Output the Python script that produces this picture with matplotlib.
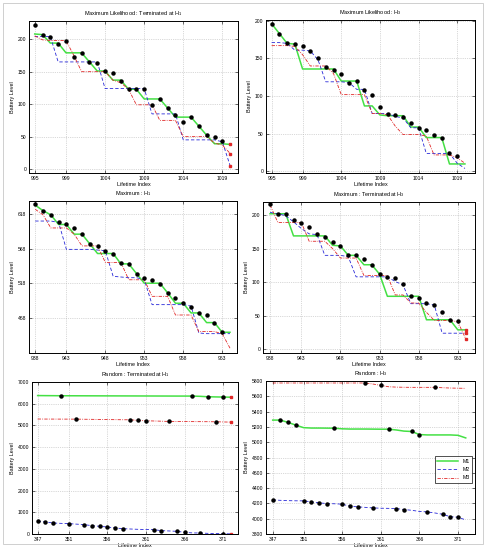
# battery level predictions, six panels
import matplotlib
matplotlib.use('Agg')
import matplotlib.pyplot as plt
import numpy as np

plt.rcParams['font.family'] = ['Liberation Sans', 'DejaVu Sans']
plt.rcParams['mathtext.fontset'] = 'custom'
plt.rcParams['mathtext.rm'] = 'Liberation Sans'

# ---------------- data ----------------
# panel 1 : Maximum Likelihood : Terminated at H1
x1 = np.arange(995, 1021)
ticks1 = [995, 999, 1004, 1009, 1014, 1019]
labels1 = ['995', '999', '1004', '1009', '1014', '1019']
obs1 = [222, 207, 204, 193, 197, 173, 179, 165, 163, 151, 148, 136, 123, 123, 123,
        98, 108, 94, 84, 73, 80, 66, 52, 49, 43]
m1_1 = [208, 207, 194, 194, 179, 179, 179, 165, 151, 151, 137, 137, 123, 123, 108,
        108, 108, 94, 80, 80, 80, 66, 52, 39, 39, 38]
m2_1 = [204, 204, 204, 165, 165, 165, 165, 165, 165, 124, 124, 124, 124, 124, 124,
        85, 85, 85, 85, 45, 45, 45, 45, 45, 42, 5]
m3_1 = [205, 199, 198, 198, 198, 175, 150, 150, 150, 150, 137, 133, 123, 99, 99,
        99, 75, 75, 75, 50, 50, 50, 50, 40, 37, 24]

# panel 2 : Maximum Likelihood : H3
x2 = np.arange(995, 1021)
ticks2 = [995, 999, 1004, 1009, 1014, 1019]
labels2 = ['995', '999', '1004', '1009', '1014', '1019']
obs2 = [196, 183, 170, 169, 166, 160, 150, 139, 134, 129, 118, 120, 108, 102, 86,
        76, 75, 72, 65, 58, 55, 48, 44, 24, 21]
m1_2 = [196, 183, 170, 169, 136, 136, 136, 136, 136, 120, 120, 120, 87, 87, 75,
        74, 74, 74, 59, 59, 45, 45, 45, 10, 10, 10]
m2_2 = [171, 171, 170, 161, 161, 160, 148, 119, 119, 119, 118, 109, 109, 77, 77,
        77, 73, 71, 58, 58, 24, 24, 24, 24, 11, 4]
m3_2 = [167, 167, 167, 166, 155, 140, 140, 140, 130, 102, 102, 102, 102, 77, 77,
        75, 60, 49, 49, 49, 47, 22, 22, 22, 18, 11]

# panel 3 : Maximum : H1
x3 = np.arange(939, 965)
ticks3 = [939, 943, 948, 953, 958, 963]
labels3 = ['938', '943', '948', '953', '958', '963']
obs3 = [632, 623, 617, 606, 603, 598, 589, 575, 572, 565, 560, 547, 546, 532, 525,
        522, 517, 504, 497, 489, 484, 475, 472, 461, 447]
m1_3 = [631, 623, 617, 603, 603, 589, 589, 575, 561, 561, 561, 546, 546, 532, 518,
        518, 518, 504, 489, 489, 475, 475, 461, 461, 447, 447]
m2_3 = [608, 608, 608, 606, 567, 567, 567, 567, 566, 565, 528, 527, 526, 526, 523,
        487, 487, 487, 487, 487, 485, 446, 445, 445, 445, 445]
m3_3 = [625, 617, 598, 598, 598, 589, 572, 572, 572, 548, 548, 548, 523, 523, 523,
        499, 499, 499, 472, 472, 472, 448, 448, 448, 445, 424]

# panel 4 : Maximum : Terminated at H3
x4 = np.arange(939, 965)
ticks4 = [939, 943, 948, 953, 958, 963]
labels4 = ['938', '943', '948', '953', '958', '963']
obs4 = [216, 202, 202, 192, 188, 182, 172, 168, 160, 154, 140, 140, 134, 125, 112,
        108, 107, 97, 80, 77, 69, 66, 55, 43, 42]
m1_4 = [202, 202, 202, 169, 169, 169, 169, 169, 155, 154, 140, 140, 126, 126, 112,
        79, 79, 79, 79, 79, 44, 44, 44, 44, 29, 29]
m2_4 = [204, 202, 199, 190, 180, 172, 171, 140, 140, 140, 138, 108, 108, 108, 108,
        108, 101, 96, 68, 68, 68, 66, 24, 24, 24, 24]
m3_4 = [215, 189, 189, 189, 189, 161, 161, 161, 150, 136, 136, 136, 110, 110, 110,
        110, 81, 81, 69, 69, 55, 43, 43, 43, 41, 16]

# panel 5 : Random : Terminated at H1
x5 = np.arange(347, 373)
ticks5 = [347, 351, 356, 361, 366, 371]
labels5 = ['347', '351', '356', '361', '366', '371']
m1_5 = [6375, 6372, 6370, 6367, 6366, 6365, 6364, 6363, 6362, 6361, 6360, 6359, 6358,
        6357, 6356, 6355, 6354, 6353, 6352, 6352, 6352, 6340, 6321, 6313, 6306, 6300]
m2_5 = [584, 554, 507, 490, 477, 455, 431, 385, 354, 323, 277, 246, 230, 215, 205,
        200, 154, 140, 123, 77, 50, 46, 30, 20, 15, 5]
m3_5 = [5295, 5293, 5292, 5291, 5290, 5290, 5285, 5280, 5275, 5270, 5266, 5262, 5260,
        5230, 5214, 5205, 5195, 5183, 5180, 5178, 5176, 5174, 5172, 5168, 5160, 5152]
dots1_5 = [3, 20, 22, 24]
dots2_5 = [0, 1, 2, 4, 6, 7, 8, 9, 10, 11, 15, 16, 18, 19, 21, 24]
dots3_5 = [5, 12, 13, 14, 17, 23]

# panel 6 : Random : H3
x6 = np.arange(347, 373)
ticks6 = [347, 351, 356, 361, 366, 371]
labels6 = ['347', '351', '356', '361', '366', '371']
m1_6 = [5289, 5289, 5258, 5223, 5190, 5185, 5185, 5184, 5183, 5175, 5172, 5172, 5172,
        5171, 5170, 5170, 5160, 5145, 5140, 5100, 5095, 5095, 5095, 5095, 5090, 5056]
m2_6 = [4246, 4240, 4236, 4234, 4233, 4220, 4207, 4198, 4195, 4190, 4163, 4155, 4148,
        4141, 4137, 4135, 4133, 4120, 4110, 4095, 4089, 4075, 4058, 4026, 4019, 3984]
m3_6 = [5774, 5774, 5774, 5774, 5774, 5774, 5774, 5774, 5774, 5774, 5774, 5774, 5774,
        5760, 5743, 5725, 5720, 5718, 5717, 5717, 5717, 5717, 5712, 5708, 5706, 5704]
dots1_6 = [1, 2, 3, 8, 15, 18, 19]
dots2_6 = [0, 4, 5, 6, 7, 9, 10, 11, 13, 16, 17, 20, 22, 23, 24]
dots3_6 = [12, 14, 21]

# ---------------- layout ----------------
W, H = 488.0, 547.0
fig = plt.figure(figsize=(W / 100, H / 100), dpi=100)

# light frame round the whole picture
fig.patches.append(plt.Rectangle((3 / W, 3 / H), 480 / W, 541 / H, transform=fig.transFigure,
                                 fill=False, edgecolor='#c8c8c8', linewidth=0.6))

def make_axes(l, r, t, b):
    return fig.add_axes([l / W, 1 - b / H, (r - l) / W, (b - t) / H])

GREEN = '#44e044'
BLUE = '#2828d8'
RED = '#e02828'
fs_tick = 3.6
fs_lab = 3.9
fs_title = 4.0

def style(ax, title, ticks, labels, ylim, yticks, xlim):
    ax.set_title(title, fontsize=fs_title, pad=4)
    ax.set_xlabel('Lifetime Index', fontsize=fs_lab, labelpad=1)
    ax.set_ylabel('Battery Level', fontsize=fs_lab, labelpad=2)
    ax.set_xticks(ticks)
    ax.set_xticklabels(labels)
    ax.set_yticks(yticks)
    ax.set_xlim(xlim)
    ax.set_ylim(ylim)
    ax.tick_params(labelsize=fs_tick, direction='in', length=2, width=0.4,
                   top=True, right=True, pad=2)
    ax.grid(True, linestyle=':', color='#b4b4b4', linewidth=0.5)
    for s in ax.spines.values():
        s.set_linewidth(0.7)

def draw_lines(ax, x, m1, m2, m3):
    ax.plot(x, m1, '-', color=GREEN, linewidth=1.1, label='M1')
    ax.plot(x, m2, '--', color=BLUE, linewidth=0.6, dashes=(4, 2.5), label='M2')
    ax.plot(x, m3, '-.', color=RED, linewidth=0.6, dashes=(4, 1.5, 1, 1.5), label='M3')

def end_marks(ax, x, m1, m2, m3):
    ax.plot([x[-1]] * 3, [m1[-1], m2[-1], m3[-1]], 's', color=RED, markersize=1.6,
            linestyle='none')

# panel 1
ax = make_axes(29, 238, 21, 173)
draw_lines(ax, x1, m1_1, m2_1, m3_1)
ax.plot(x1[:len(obs1)], obs1, 'o', color='k', markersize=2.2)
end_marks(ax, x1, m1_1, m2_1, m3_1)
style(ax, r'Maximum Likelihood : Terminated at H$_1$', ticks1, labels1,
      (-6, 228), [0, 50, 100, 150, 200], (994.27, 1021.0))

# panel 2
ax = make_axes(266, 475, 20, 173)
draw_lines(ax, x2, m1_2, m2_2, m3_2)
ax.plot(x2[:len(obs2)], obs2, 'o', color='k', markersize=2.2)
style(ax, r'Maximum Likelihood : H$_3$', ticks2, labels2,
      (-2, 201), [0, 50, 100, 150, 200], (994.27, 1021.3))

# panel 3
ax = make_axes(29, 237, 201, 353)
draw_lines(ax, x3, m1_3, m2_3, m3_3)
ax.plot(x3[:len(obs3)], obs3, 'o', color='k', markersize=2.2)
style(ax, r'Maximum : H$_1$', ticks3, labels3,
      (417, 637), [468, 518, 568, 618], (938.2, 964.9))

# panel 4
ax = make_axes(263, 475, 202, 353)
draw_lines(ax, x4, m1_4, m2_4, m3_4)
ax.plot(x4[:len(obs4)], obs4, 'o', color='k', markersize=2.2)
end_marks(ax, x4, m1_4, m2_4, m3_4)
style(ax, r'Maximum : Terminated at H$_3$', ticks4, labels4,
      (-5.5, 219.5), [0, 50, 100, 150, 200], (938.1, 965.2))

# panel 5
ax = make_axes(32, 238, 382, 534)
draw_lines(ax, x5, m1_5, m2_5, m3_5)
for m, d in ((m1_5, dots1_5), (m2_5, dots2_5), (m3_5, dots3_5)):
    ax.plot(x5[d], np.array(m)[d], 'o', color='k', markersize=2.2)
end_marks(ax, x5, m1_5, m2_5, m3_5)
style(ax, r'Random : Terminated at H$_1$', ticks5, labels5,
      (0, 7000), np.arange(0, 7001, 1000), (346.27, 372.9))

# panel 6
ax = make_axes(266, 475, 381, 534)
draw_lines(ax, x6, m1_6, m2_6, m3_6)
for m, d in ((m1_6, dots1_6), (m2_6, dots2_6), (m3_6, dots3_6)):
    ax.plot(x6[d], np.array(m)[d], 'o', color='k', markersize=2.2)
style(ax, r'Random : H$_3$', ticks6, labels6,
      (3800, 5800), np.arange(3800, 5801, 200), (346.13, 373.2))
leg = ax.legend(loc='center right', bbox_to_anchor=(1.0, 0.42), fontsize=3.8,
                frameon=True, fancybox=False, edgecolor='k', handlelength=4,
                borderpad=0.5, labelspacing=0.6)
leg.get_frame().set_linewidth(0.6)

fig.savefig('out.png', dpi=100)
